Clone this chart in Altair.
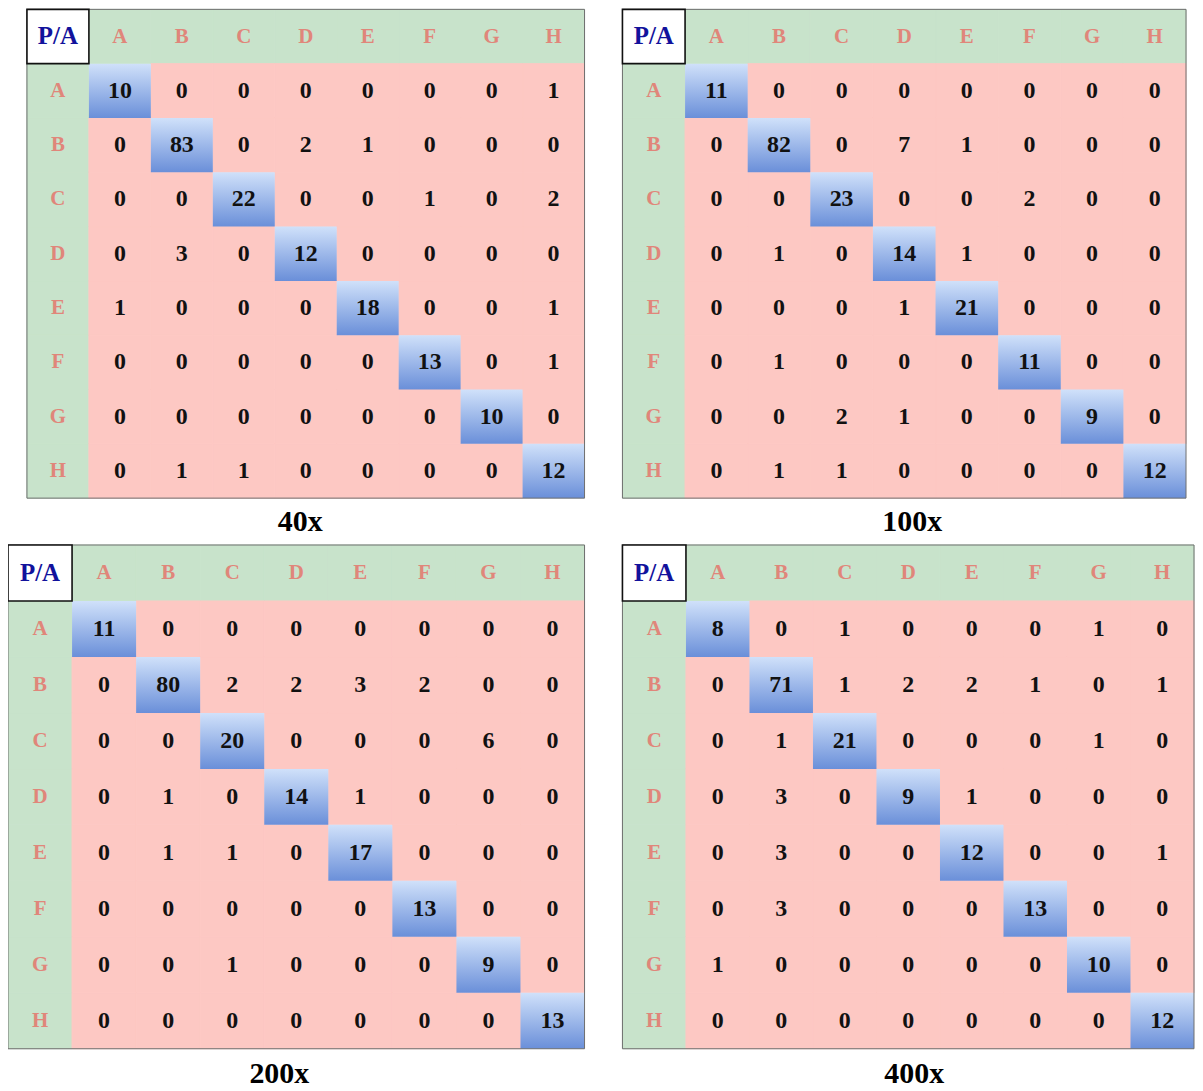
import altair as alt
import pandas as pd

# ---------------- data ----------------
labels = ["A", "B", "C", "D", "E", "F", "G", "H"]
corner_label = "P/A"
panel_titles = ["40x", "100x", "200x", "400x"]

m_40x = [
    [10, 0, 0, 0, 0, 0, 0, 1],
    [0, 83, 0, 2, 1, 0, 0, 0],
    [0, 0, 22, 0, 0, 1, 0, 2],
    [0, 3, 0, 12, 0, 0, 0, 0],
    [1, 0, 0, 0, 18, 0, 0, 1],
    [0, 0, 0, 0, 0, 13, 0, 1],
    [0, 0, 0, 0, 0, 0, 10, 0],
    [0, 1, 1, 0, 0, 0, 0, 12],
]
m_100x = [
    [11, 0, 0, 0, 0, 0, 0, 0],
    [0, 82, 0, 7, 1, 0, 0, 0],
    [0, 0, 23, 0, 0, 2, 0, 0],
    [0, 1, 0, 14, 1, 0, 0, 0],
    [0, 0, 0, 1, 21, 0, 0, 0],
    [0, 1, 0, 0, 0, 11, 0, 0],
    [0, 0, 2, 1, 0, 0, 9, 0],
    [0, 1, 1, 0, 0, 0, 0, 12],
]
m_200x = [
    [11, 0, 0, 0, 0, 0, 0, 0],
    [0, 80, 2, 2, 3, 2, 0, 0],
    [0, 0, 20, 0, 0, 0, 6, 0],
    [0, 1, 0, 14, 1, 0, 0, 0],
    [0, 1, 1, 0, 17, 0, 0, 0],
    [0, 0, 0, 0, 0, 13, 0, 0],
    [0, 0, 1, 0, 0, 0, 9, 0],
    [0, 0, 0, 0, 0, 0, 0, 13],
]
m_400x = [
    [8, 0, 1, 0, 0, 0, 1, 0],
    [0, 71, 1, 2, 2, 1, 0, 1],
    [0, 1, 21, 0, 0, 0, 1, 0],
    [0, 3, 0, 9, 1, 0, 0, 0],
    [0, 3, 0, 0, 12, 0, 0, 1],
    [0, 3, 0, 0, 0, 13, 0, 0],
    [1, 0, 0, 0, 0, 0, 10, 0],
    [0, 0, 0, 0, 0, 0, 0, 12],
]

# ---------------- styling ----------------
FONT = "Liberation Serif"
GREEN = "#c8e3cb"
PINK = "#fdc8c3"
BLUE_TOP = "#d0e1fa"
BLUE_BOTTOM = "#6a8fd9"
HEADER_TEXT = "#e0867a"
CORNER_TEXT = "#12129c"
FRAME = "#6e6e6e"

order = [corner_label] + labels

blue_gradient = alt.Gradient(
    gradient="linear",
    stops=[alt.GradientStop(color=BLUE_TOP, offset=0),
           alt.GradientStop(color=BLUE_BOTTOM, offset=1)],
    x1=0, x2=0, y1=0, y2=1,
)


def panel(mat, title, w, h, dx, offset, x_outer=0.0):
    cells = pd.DataFrame([
        {"row": labels[i], "col": labels[j], "value": mat[i][j], "diag": i == j}
        for i in range(len(labels)) for j in range(len(labels))
    ])
    headers = pd.DataFrame(
        [{"row": corner_label, "col": l, "text": l} for l in labels]
        + [{"row": l, "col": corner_label, "text": l} for l in labels]
    )
    corner = pd.DataFrame([{"row": corner_label, "col": corner_label, "text": corner_label}])

    if x_outer:
        xs = alt.Scale(domain=order, paddingInner=0, paddingOuter=x_outer, align=1)
    else:
        xs = alt.Scale(domain=order, paddingInner=0, paddingOuter=0)
    ys = alt.Scale(domain=order, paddingInner=0, paddingOuter=0)
    X = alt.X("col:N", scale=xs, axis=None)
    Y = alt.Y("row:N", scale=ys, axis=None)

    hdr_rect = alt.Chart(headers).mark_rect(
        fill=GREEN, stroke=GREEN, strokeWidth=1).encode(x=X, y=Y)
    off_rect = (alt.Chart(cells).transform_filter("!datum.diag")
                .mark_rect(fill=PINK, stroke=PINK, strokeWidth=1).encode(x=X, y=Y))
    diag_rect = (alt.Chart(cells).transform_filter("datum.diag")
                 .mark_rect(color=blue_gradient).encode(x=X, y=Y))
    frame_rect = alt.Chart(corner).mark_rect(
        fill=None, stroke=FRAME, strokeWidth=1
    ).encode(
        x=alt.X("col:N", scale=xs, axis=None, bandPosition=0),
        x2=alt.value("width"),
        y=alt.Y("row:N", scale=ys, axis=None, bandPosition=0),
        y2=alt.value("height"),
    )
    corner_rect = alt.Chart(corner).mark_rect(
        fill="white", stroke="#111111", strokeWidth=1.6).encode(x=X, y=Y)
    hdr_text = alt.Chart(headers).mark_text(
        font=FONT, fontSize=21, fontWeight="bold", color=HEADER_TEXT
    ).encode(x=X, y=Y, text="text:N")
    corner_text = alt.Chart(corner).mark_text(
        font=FONT, fontSize=25, fontWeight="bold", color=CORNER_TEXT
    ).encode(x=X, y=Y, text="text:N")
    num_text = alt.Chart(cells).mark_text(
        font=FONT, fontSize=24, fontWeight="bold", color="#111111"
    ).encode(x=X, y=Y, text="value:Q")

    return alt.layer(
        hdr_rect, off_rect, diag_rect, frame_rect, corner_rect,
        hdr_text, corner_text, num_text
    ).properties(
        width=w, height=h,
        view=alt.ViewBackground(stroke=None),
        title=alt.TitleParams(
            text=title, orient="bottom", anchor="middle", frame="group",
            baseline="top", offset=offset, dx=dx,
            font=FONT, fontSize=30, fontWeight="bold", color="black",
        ),
    )


# top-left panel: 578 px group, bands occupy the right 559 px
tl_outer = (9 * 578 / 559 - 9) / 2
p1 = panel(m_40x, panel_titles[0], 578, 490, 4, 8, x_outer=tl_outer)
p2 = panel(m_100x, panel_titles[1], 565, 490, 8, 8)
p3 = panel(m_200x, panel_titles[2], 578, 505, -17, 10)
p4 = panel(m_400x, panel_titles[3], 573, 505, 6, 10)

chart = (
    alt.concat(p1, p2, p3, p4, columns=2, align="none", bounds="full",
               spacing={"row": 7, "column": 36})
    .properties(padding={"left": -1, "top": -1, "right": 0, "bottom": 0})
    .configure_view(stroke=None)
)

chart.save("out.html", embed_options={"renderer": "svg", "actions": False})
